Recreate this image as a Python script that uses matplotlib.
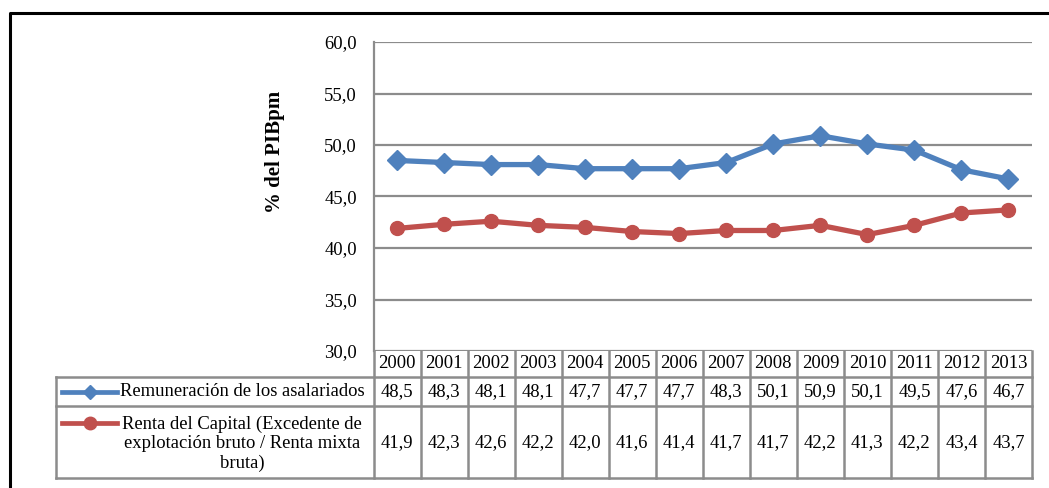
import matplotlib
matplotlib.use("Agg")
import matplotlib.pyplot as plt
from matplotlib.lines import Line2D

plt.rcParams['font.family'] = ['Liberation Serif', 'DejaVu Serif']

years = ['2000', '2001', '2002', '2003', '2004', '2005', '2006',
         '2007', '2008', '2009', '2010', '2011', '2012', '2013']
remuneracion = [48.5, 48.3, 48.1, 48.1, 47.7, 47.7, 47.7,
                48.3, 50.1, 50.9, 50.1, 49.5, 47.6, 46.7]
renta_capital = [41.9, 42.3, 42.6, 42.2, 42.0, 41.6, 41.4,
                 41.7, 41.7, 42.2, 41.3, 42.2, 43.4, 43.7]
series_names = ['Remuneración de los asalariados',
                'Renta del Capital (Excedente de\nexplotación bruto / Renta mixta\nbruta)']
y_ticks = [30, 35, 40, 45, 50, 55, 60]
y_label = '% del PIBpm'

BLUE = '#4F81BD'
RED = '#C0504D'
GRID = '#8C8C8C'

W, H = 1049, 488
fig = plt.figure(figsize=(W / 100, H / 100), dpi=100)

# overlay in pixel coordinates for frame and data table
ov = fig.add_axes([0, 0, 1, 1])
ov.set_xlim(0, W)
ov.set_ylim(H, 0)
ov.axis('off')

# plot area geometry (pixels)
px0, px1 = 373.5, 1032
py_top, py_bot = 42, 351
col_w = (px1 - px0) / len(years)

fs = 13.4

ax = fig.add_axes([px0 / W, 1 - py_bot / H, (px1 - px0) / W, (py_bot - py_top) / H])
ax.patch.set_alpha(0)
x = list(range(len(years)))
ax.plot(x, remuneracion, color=BLUE, lw=3.8, marker='D', ms=10,
        solid_joinstyle='round', zorder=3)
ax.plot(x, renta_capital, color=RED, lw=3.8, marker='o', ms=10,
        solid_joinstyle='round', zorder=3)
ax.set_xlim(-0.5, len(years) - 0.5)
ax.set_ylim(y_ticks[0], y_ticks[-1])
ax.set_yticks(y_ticks)
ax.set_yticklabels([f'{v:.1f}'.replace('.', ',') for v in y_ticks], fontsize=fs)
ax.set_xticks([])
ax.tick_params(axis='y', length=0, pad=12)
ax.yaxis.grid(True, color=GRID, lw=1.6)
ax.set_axisbelow(True)
for s in ['top', 'right', 'bottom']:
    ax.spines[s].set_visible(False)
ax.spines['left'].set_color(GRID)
ax.spines['left'].set_linewidth(1.6)

fig.text(275 / W, 1 - 152 / H, y_label, rotation=90, ha='center', va='center',
         fontsize=15, fontweight='bold')

# outer frame
ov.add_line(Line2D([10, 10, W], [H, 13, 13], color='black', lw=2.2))

# data table
tx0 = 56
r_year, r1, r2 = 377, 406, 478
def hline(y, x0, x1):
    ov.add_line(Line2D([x0, x1], [y, y], color=GRID, lw=1.8))
def vline(xv, y0, y1):
    ov.add_line(Line2D([xv, xv], [y0, y1], color=GRID, lw=1.8))

hline(r_year, tx0, px1)
hline(r1, tx0, px1)
hline(r2, tx0, px1)
vline(tx0, r_year, r2)
vline(px0, py_bot, r2)
for i in range(1, len(years) + 1):
    vline(px0 + i * col_w, py_bot, r2)

for i, yr in enumerate(years):
    cx = px0 + (i + 0.5) * col_w
    ov.text(cx, 363, yr, ha='center', va='center', fontsize=fs)
    ov.text(cx, 392, f'{remuneracion[i]:.1f}'.replace('.', ','),
            ha='center', va='center', fontsize=fs)
    ov.text(cx, 443, f'{renta_capital[i]:.1f}'.replace('.', ','),
            ha='center', va='center', fontsize=fs)

# legend keys inside the label column
ov.add_line(Line2D([62, 117], [392, 392], color=BLUE, lw=3.4))
ov.plot([89.5], [392], marker='D', ms=7.5, color=BLUE)
ov.add_line(Line2D([62, 117], [423, 423], color=RED, lw=3.4))
ov.plot([89.5], [423], marker='o', ms=9, color=RED)
ov.text(120, 392, series_names[0], ha='left', va='center', fontsize=fs)
ov.text(242, 444, series_names[1], ha='center', va='center', fontsize=fs,
        linespacing=1.2, multialignment='center')

fig.savefig('out.png', dpi=100)
